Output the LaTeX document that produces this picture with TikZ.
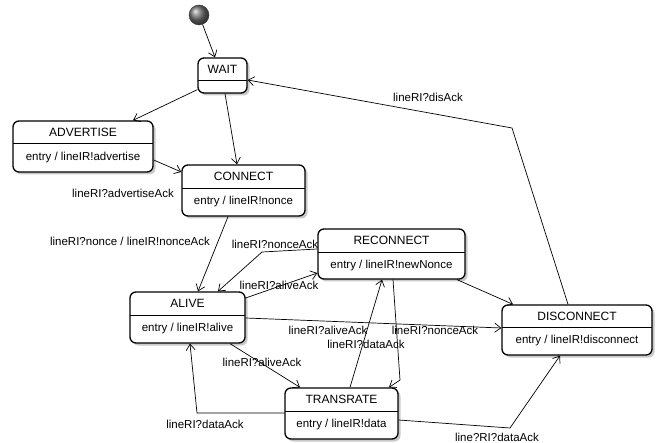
\documentclass[tikz,border=0pt]{standalone}
\usepackage{fontspec}
\setmainfont{Liberation Sans}
\usetikzlibrary{arrows.meta,shadows,fit}
\tikzset{
  statebox/.style={draw=black, line width=1.3pt, rounded corners=6pt, fill=white, inner sep=0pt,
    drop shadow={shadow xshift=2.5pt, shadow yshift=-2.5pt, fill=black!30, opacity=0.7}},
  divider/.style={line width=0.6pt},
  stitle/.style={font=\fontsize{12}{14}\selectfont, inner sep=0pt},
  sentry/.style={font=\fontsize{11.5}{13}\selectfont, inner sep=0pt},
  lbl/.style={font=\fontsize{11.5}{13}\selectfont, inner sep=0pt},
  tr/.style={line width=0.7pt, -{Straight Barb[length=6pt,width=9pt]}},
}
\newcommand\umlstate[8]{%
  \coordinate (#1nw) at (#2,#3);
  \coordinate (#1se) at (#4,#5);
  \node[statebox, fit=(#1nw)(#1se)] (#1) {};
  \draw[divider] (#2,#6) -- (#4,#6);
  \node[stitle] (#1t) at ({(#2+#4)/2},{(#3+#6)/2}) {#7};
  \node[sentry] (#1e) at ({(#2+#4)/2},{(#6+#5)/2}) {#8};
}
\begin{document}
\begin{tikzpicture}[x=1pt,y=-1pt]
\useasboundingbox (0,0) rectangle (663,443);
% initial state
\node[circle, minimum size=20pt, inner sep=0pt, draw=black!80, shading=ball, ball color=black!55] (init) at (199,15) {};
% states
\umlstate{wait}{198}{58}{247}{93}{80}{WAIT}{}
\umlstate{adv}{13}{121}{153}{172}{143}{ADVERTISE}{entry / lineIR!advertise}
\umlstate{con}{182}{165}{305}{216}{188}{CONNECT}{entry / lineIR!nonce}
\umlstate{alive}{130}{292}{245}{343}{315}{ALIVE}{entry / lineIR!alive}
\umlstate{recon}{318}{229}{465}{279}{252}{RECONNECT}{entry / lineIR!newNonce}
\umlstate{disc}{502}{305}{652}{355}{327}{DISCONNECT}{entry / lineIR!disconnect}
\umlstate{trans}{285}{388}{398}{439}{411}{TRANSRATE}{entry / lineIR!data}
% bend points
\coordinate (b6) at (262,252);
\coordinate (b11) at (400,380);
\coordinate (b13) at (197,413);
\coordinate (b14) at (510,428);
\coordinate (b15) at (512,128);
% transitions
\draw[tr] (init) -- (wait.north -| 215,0);
\draw[tr] ([yshift=4pt]wait.south west) -- (adv.north -| 133,0);
\draw[tr] (wait.south -| 225,0) -- (con.north -| 237,0);
\draw[tr] (adv.east |- 0,160) -- (con.west |- 0,172);
\draw[tr] (con.south -| 228,0) -- (alive.north -| 198,0);
\draw[tr] (recon.west |- 0,249) -- (b6) -- (alive.north -| 218,0);
\draw[tr] (alive.east |- 0,298) -- (recon.west |- 0,273);
\draw[tr] (alive.east |- 0,318) -- (disc.west |- 0,328);
\draw[tr] (recon.south -| 457,0) -- (disc.north -| 513,0);
\draw[tr] (trans.north -| 350,0) -- (recon.south -| 382,0);
\draw[tr] (recon.south -| 393,0) -- (b11) -- (trans.north -| 389,0);
\draw[tr] (alive.south -| 230,0) -- (trans.north -| 300,0);
\draw[tr] (trans.west |- 0,413) -- (b13) -- (alive.south -| 190,0);
\draw[tr] (trans.east |- 0,420) -- (b14) -- (disc.south -| 560,0);
\draw[tr] (disc.north -| 568,0) -- (b15) -- (wait.east |- 0,80);
% labels
\node[lbl] (l4) at (123,193) {lineRI?advertiseAck};
\node[lbl] (l5) at (130,241) {lineRI?nonce / lineIR!nonceAck};
\node[lbl] (l6) at (275,244) {lineRI?nonceAck};
\node[lbl] (l7) at (279,285) {lineRI?aliveAck};
\node[lbl] (l8a) at (328,330) {lineRI?aliveAck};
\node[lbl] (l8b) at (366,344) {lineRI?dataAck};
\node[lbl] (l8c) at (435,330) {lineRI?nonceAck};
\node[lbl] (l12) at (262,362) {lineRI?aliveAck};
\node[lbl] (l13) at (205,424) {lineRI?dataAck};
\node[lbl] (l14) at (497,437) {line?RI?dataAck};
\node[lbl] (l15) at (428,97) {lineRI?disAck};
\end{tikzpicture}
\end{document}
